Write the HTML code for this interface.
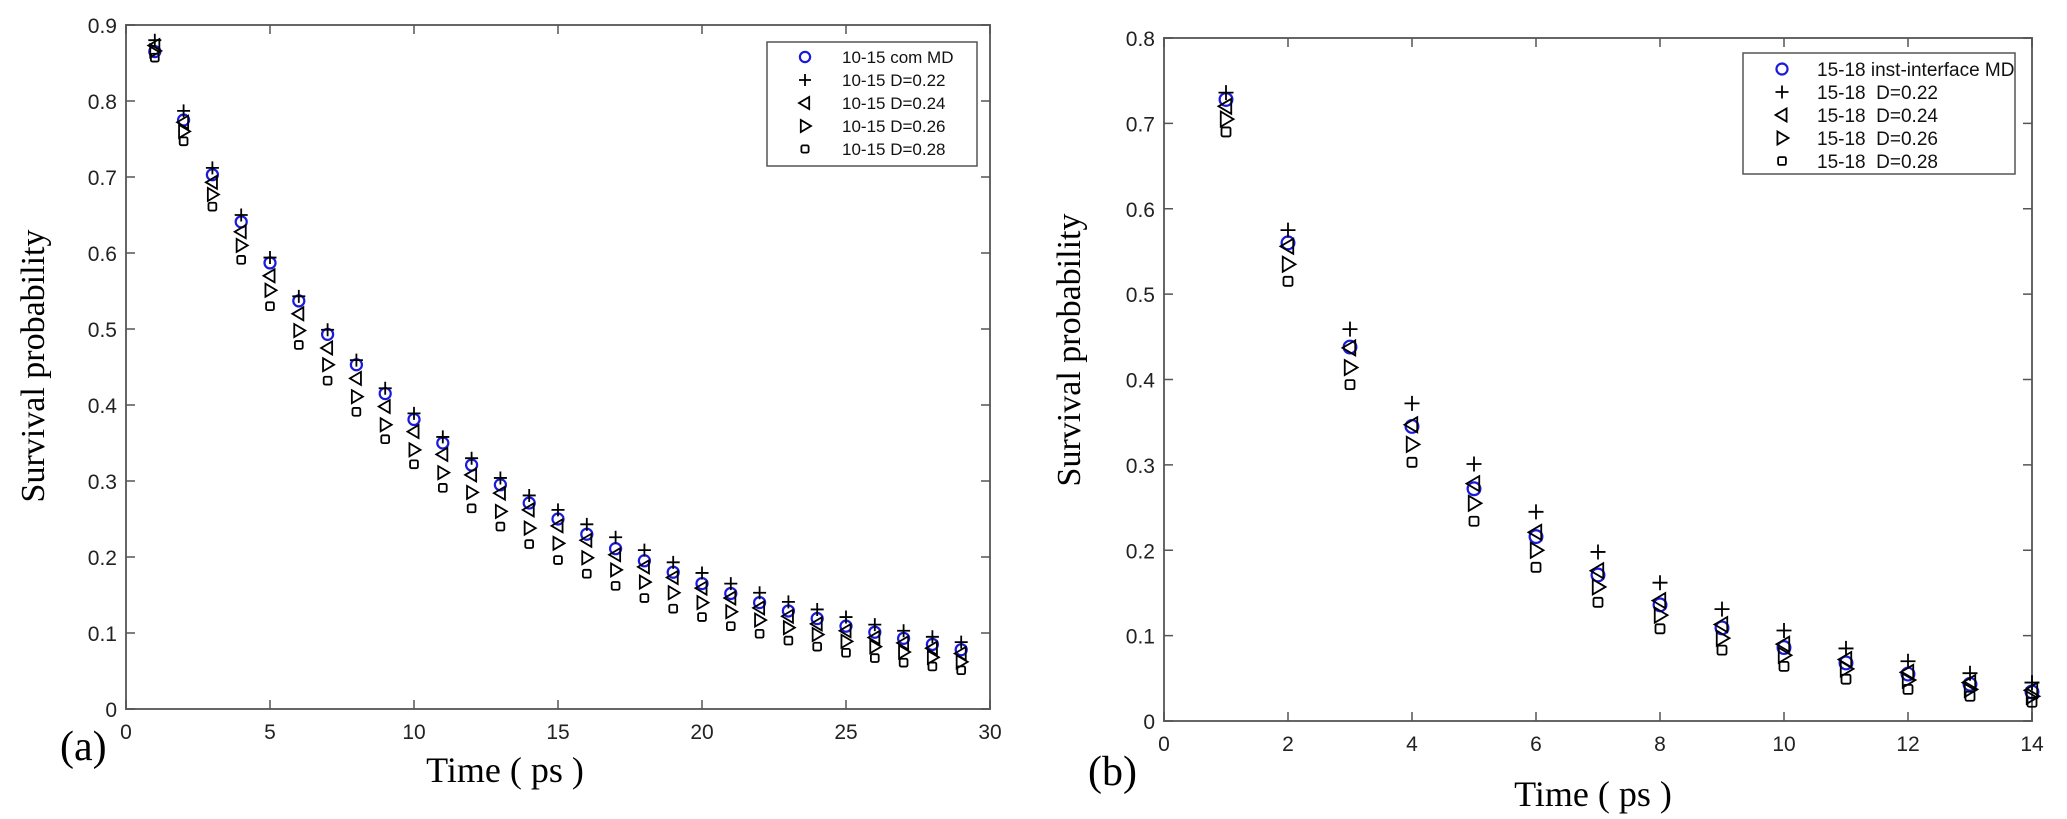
<!DOCTYPE html>
<html><head><meta charset="utf-8"><style>
html,body{margin:0;padding:0;background:#fff;}
svg{display:block;}
.tick{font-family:"Liberation Sans",sans-serif;font-size:21px;fill:#222;}
.lab{font-family:"Liberation Serif",serif;fill:#000;}
.leg{font-family:"Liberation Sans",sans-serif;fill:#111;white-space:pre;}
</style></head><body>
<svg id="fig" width="2067" height="819" viewBox="0 0 2067 819" xmlns="http://www.w3.org/2000/svg"></svg>
<script>
// Panel (a) data
const aTimes=[1,2,3,4,5,6,7,8,9,10,11,12,13,14,15,16,17,18,19,20,21,22,23,24,25,26,27,28,29];
const aMD=[.865,.775,.703,.641,.587,.537,.493,.453,.415,.381,.350,.321,.295,.271,.250,.230,.211,.195,.180,.165,.152,.140,.129,.119,.109,.101,.093,.085,.078];
const aD22=[.880,.787,.712,.650,.594,.543,.499,.459,.422,.389,.358,.330,.304,.281,.262,.243,.226,.209,.193,.179,.165,.153,.141,.131,.121,.111,.103,.095,.088];
const aD24=[.873,.772,.693,.628,.570,.520,.475,.435,.398,.365,.335,.308,.284,.262,.241,.222,.203,.187,.173,.159,.146,.133,.122,.112,.103,.094,.087,.080,.073];
const aD26=[.866,.760,.677,.610,.551,.498,.453,.411,.374,.341,.311,.285,.260,.238,.218,.199,.183,.167,.153,.140,.128,.117,.107,.098,.089,.082,.075,.068,.062];
const aD28=[.857,.747,.661,.591,.530,.479,.432,.391,.355,.322,.291,.264,.240,.217,.196,.178,.162,.146,.132,.121,.109,.099,.090,.082,.074,.067,.061,.056,.051];
const aXTicks=[0,5,10,15,20,25,30];
const aYTicks=[0,0.1,0.2,0.3,0.4,0.5,0.6,0.7,0.8,0.9];
const aLegend=["10-15 com MD","10-15 D=0.22","10-15 D=0.24","10-15 D=0.26","10-15 D=0.28"];
// Panel (b) data
const bTimes=[1,2,3,4,5,6,7,8,9,10,11,12,13,14];
const bMD=[.728,.560,.438,.345,.272,.216,.171,.136,.109,.086,.068,.055,.043,.034];
const bD22=[.736,.575,.459,.372,.301,.245,.198,.162,.131,.106,.085,.070,.056,.045];
const bD24=[.720,.556,.437,.347,.278,.221,.176,.141,.113,.090,.072,.057,.045,.036];
const bD26=[.705,.535,.414,.324,.255,.200,.157,.124,.097,.077,.061,.048,.037,.029];
const bD28=[.690,.515,.394,.303,.234,.180,.139,.108,.083,.064,.049,.037,.029,.022];
const bXTicks=[0,2,4,6,8,10,12,14];
const bYTicks=[0,0.1,0.2,0.3,0.4,0.5,0.6,0.7,0.8];
const bLegend=["15-18 inst-interface MD","15-18  D=0.22","15-18  D=0.24","15-18  D=0.26","15-18  D=0.28"];

const NS="http://www.w3.org/2000/svg";
const svg=document.getElementById('fig');
function mk(tag,attrs,parent,text){const e=document.createElementNS(NS,tag);for(const k in attrs)e.setAttribute(k,attrs[k]);if(text!==undefined)e.textContent=text;(parent||svg).appendChild(e);return e;}
const kinds=['circle','plus','left','right','square'];
function marker(g,kind,x,y,s){
  const h=s/2;let e;
  if(kind==='circle'){e=mk('circle',{cx:x,cy:y,r:h*0.85,fill:'none',stroke:'#1a1adc','stroke-width':2.2},g);}
  else if(kind==='plus'){e=mk('path',{d:`M${x-h} ${y}H${x+h}M${x} ${y-h}V${y+h}`,stroke:'#000','stroke-width':1.8,fill:'none'},g);}
  else if(kind==='left'){e=mk('path',{d:`M${x-h} ${y}L${x+h*0.7} ${y-h}L${x+h*0.7} ${y+h}Z`,stroke:'#000','stroke-width':1.8,fill:'none'},g);}
  else if(kind==='right'){e=mk('path',{d:`M${x+h} ${y}L${x-h*0.7} ${y-h}L${x-h*0.7} ${y+h}Z`,stroke:'#000','stroke-width':1.8,fill:'none'},g);}
  else {e=mk('rect',{x:x-h*0.6,y:y-h*0.6,width:h*1.2,height:h*1.2,rx:1.5,stroke:'#000','stroke-width':1.8,fill:'none'},g);}
  return e;
}
function panel(cfg){
  const g=mk('g',{});
  
  
  const X=v=>cfg.x0+(v-cfg.xmin)/(cfg.xmax-cfg.xmin)*(cfg.x1-cfg.x0);
  const Y=v=>cfg.y0-(v-cfg.ymin)/(cfg.ymax-cfg.ymin)*(cfg.y0-cfg.y1);
  const box=mk('rect',{x:cfg.x0,y:cfg.y1,width:cfg.x1-cfg.x0,height:cfg.y0-cfg.y1,fill:'none',stroke:'#666','stroke-width':2},g);
  
  
  cfg.xt.forEach(t=>{const x=X(t);
    mk('path',{d:`M${x} ${cfg.y0}v-9M${x} ${cfg.y1}v9`,stroke:'#555','stroke-width':1.5},g);
    const tl=mk('text',{x:x,y:cfg.y0+30,'text-anchor':'middle',class:'tick'},g,String(t));
    
    
  });
  cfg.yt.forEach(t=>{const y=Y(t);
    mk('path',{d:`M${cfg.x0} ${y}h9M${cfg.x1} ${y}h-9`,stroke:'#555','stroke-width':1.5},g);
    const tl=mk('text',{x:cfg.x0-9,y:y+8,'text-anchor':'end',class:'tick'},g,t===0?'0':String(t));
    
    
  });
  cfg.series.forEach((s,i)=>{
    const sg=mk('g',{},g);
    
    
    s.forEach((v,j)=>{const m=marker(sg,kinds[i],X(cfg.t[j]),Y(v),cfg.ms);
      
      });
  });
  const lg=mk('g',{},g);
  
  
  mk('rect',{x:cfg.lx,y:cfg.ly,width:cfg.lw,height:cfg.lh,fill:'#fff',stroke:'#555','stroke-width':1.5},lg);
  cfg.legend.forEach((txt,i)=>{
    const y=cfg.ly+cfg.lr0+i*cfg.ldy;
    const e=mk('g',{},lg);
    
    
    marker(e,kinds[i],cfg.lmx,y,cfg.lms);
    mk('text',{x:cfg.ltx,y:y+cfg.lfs*0.36,class:'leg','font-size':cfg.lfs},e,txt);
  });
  const xl=mk('text',{x:cfg.xlx,y:cfg.xly,'text-anchor':'middle',class:'lab','font-size':36},g,'Time ( ps )');
  
  
  const yl=mk('text',{x:0,y:0,'text-anchor':'middle',class:'lab','font-size':34,transform:`translate(${cfg.ylx},${cfg.yly}) rotate(-90)`},g,'Survival probability');
  
  
  const pl=mk('text',{x:cfg.plx,y:cfg.ply,class:'lab','font-size':42},g,cfg.label);
  
  
}
panel({name:'panel-a',x0:126,x1:990,y0:709,y1:25,xmin:0,xmax:30,ymin:0,ymax:0.9,xt:aXTicks,yt:aYTicks,t:aTimes,
  series:[aMD,aD22,aD24,aD26,aD28],legend:aLegend,ms:13,
  lx:767,ly:42,lw:210,lh:124,lr0:15,ldy:23,lmx:805,ltx:842,lfs:17,lms:12,
  xlx:505,xly:782,ylx:44,yly:366,plx:60,ply:760,label:'(a)'});
panel({name:'panel-b',x0:1164,x1:2032,y0:721,y1:38,xmin:0,xmax:14,ymin:0,ymax:0.8,xt:bXTicks,yt:bYTicks,t:bTimes,
  series:[bMD,bD22,bD24,bD26,bD28],legend:bLegend,ms:15,
  lx:1743,ly:53,lw:272,lh:121,lr0:16,ldy:23,lmx:1782,ltx:1817,lfs:19,lms:13,
  xlx:1593,xly:806,ylx:1080,yly:350,plx:1088,ply:785,label:'(b)'});
</script>
</body></html>
